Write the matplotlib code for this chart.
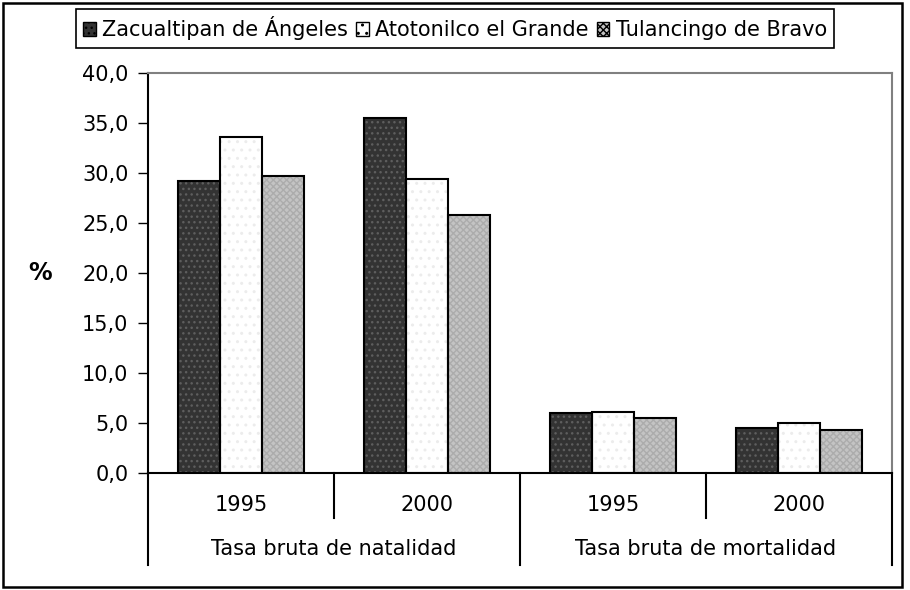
import matplotlib.pyplot as plt
import numpy as np
from matplotlib.patches import Patch, Rectangle
from matplotlib.ticker import FuncFormatter

plt.rcParams["font.family"] = ["DejaVu Sans"]

# data
municipios = ["Zacualtipan de Ángeles", "Atotonilco el Grande", "Tulancingo de Bravo"]
years = ["1995", "2000", "1995", "2000"]
indicators = ["Tasa bruta de natalidad", "Tasa bruta de mortalidad"]
zacualtipan = [29.2, 35.5, 6.0, 4.5]
atotonilco = [33.6, 29.4, 6.1, 5.0]
tulancingo = [29.7, 25.8, 5.5, 4.3]

series = [zacualtipan, atotonilco, tulancingo]
faces = ["#333333", "#ffffff", "#c4c4c4"]
hatch_cols = ["#5e5e5e", "#ececec", "#acacac"]
hatches = ["...", "..", "xxxxx"]
fs = 15

fig = plt.figure(figsize=(9.1, 5.9), dpi=100)
ax = fig.add_axes([148 / 910, 117 / 590, 744 / 910, 400 / 590])

x = np.arange(len(years))
w = 0.225
for i, vals in enumerate(series):
    pos = x + (i - 1) * w
    ax.bar(pos, vals, w, color=faces[i], hatch=hatches[i],
           edgecolor=hatch_cols[i], linewidth=0, zorder=2)
    ax.bar(pos, vals, w, fill=False, edgecolor="black", linewidth=1.5, zorder=3)

ax.set_xlim(-0.5, 3.5)
ax.set_ylim(0, 40)
ax.set_yticks(np.arange(0, 41, 5))
ax.yaxis.set_major_formatter(FuncFormatter(lambda v, p: f"{v:.1f}".replace(".", ",")))
ax.tick_params(axis="y", length=7, width=1, labelsize=fs, pad=7)
ax.set_xticks([])

for s in ["top", "right"]:
    ax.spines[s].set_color("#808080")
    ax.spines[s].set_linewidth(1.5)
for s in ["left", "bottom"]:
    ax.spines[s].set_color("black")
    ax.spines[s].set_linewidth(1.5)

# hierarchical category axis
trans = ax.get_xaxis_transform()
for b in [-0.5, 1.5, 3.5]:
    ax.plot([b, b], [0, -0.23], color="black", lw=1.5, transform=trans, clip_on=False)
for b in [0.5, 2.5]:
    ax.plot([b, b], [0, -0.1125], color="black", lw=1.5, transform=trans, clip_on=False)
for xi, yr in zip(x, years):
    ax.text(xi, -0.08, yr, transform=trans, ha="center", va="center", fontsize=fs)
for j, name in enumerate(indicators):
    ax.text(0.5 + 2 * j, -0.19, name, transform=trans, ha="center", va="center", fontsize=fs)

fig.text(40 / 910, 1 - 273 / 590, "%", fontsize=17, fontweight="bold", ha="center", va="center")

handles = [Patch(facecolor=faces[i], edgecolor="black", hatch=hatches[i], linewidth=1)
           for i in range(3)]
leg = fig.legend(handles, municipios, loc="upper center", ncol=3,
                 bbox_to_anchor=(455 / 910, 1 - 9 / 590), fontsize=fs,
                 handlelength=0.6, handleheight=0.6, handletextpad=0.3,
                 columnspacing=0.4, borderpad=0.35, borderaxespad=0,
                 fancybox=False, edgecolor="black", framealpha=1)
leg.get_frame().set_linewidth(1.2)

fig.patches.append(Rectangle((3 / 910, 3 / 590), 899 / 910, 584 / 590,
                             transform=fig.transFigure, fill=False,
                             edgecolor="black", linewidth=1.8))

fig.savefig("out.png", dpi=100)
